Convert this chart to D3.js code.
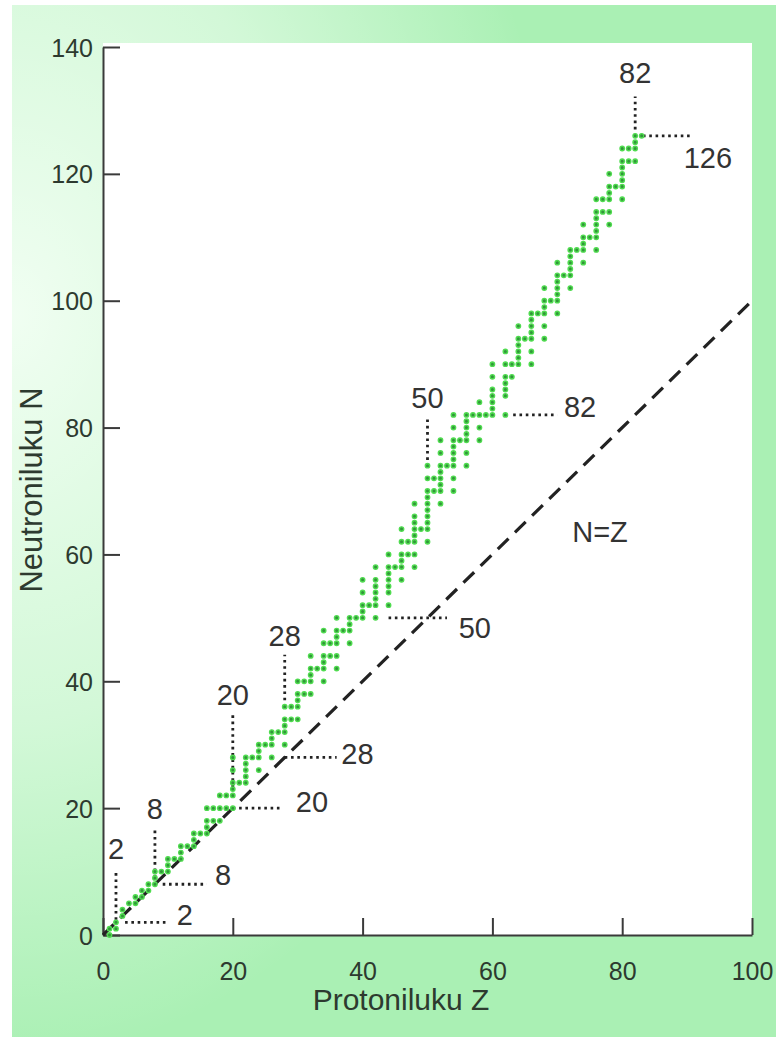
<!DOCTYPE html>
<html>
<head>
<meta charset="utf-8">
<script src="https://cdn.jsdelivr.net/npm/d3@7"></script>
<style>
  html, body { margin: 0; padding: 0; background: #fff; }
  svg { display: block; }
</style>
</head>
<body>
<div id="chart"></div>
<script>
// proton numbers of the elements that have stable nuclides
const protonZ = [
  1, 2, 3, 4, 5, 6, 7, 8, 9, 10, 11, 12, 13, 14, 15, 16, 17, 18, 19, 20,
  21, 22, 23, 24, 25, 26, 27, 28, 29, 30, 31, 32, 33, 34, 35, 36, 37, 38, 39, 40,
  41, 42, 44, 45, 46, 47, 48, 49, 50, 51, 52, 53, 54, 55, 56, 57, 58, 59, 60,
  62, 63, 64, 65, 66, 67, 68, 69, 70, 71, 72, 73, 74, 75, 76, 77, 78, 79, 80,
  81, 82, 83
]
// neutron numbers of the stable nuclides for each Z above
const neutronN = [
  [0, 1], [1, 2], [3, 4], [5], [5, 6], [6, 7], [7, 8], [8, 9, 10], [10], [10, 11, 12],
  [12], [12, 13, 14], [14], [14, 15, 16], [16], [16, 17, 18, 20], [18, 20], [18, 20, 22], [20, 22], [20, 22, 23, 24, 26, 28],
  [24], [24, 25, 26, 27, 28], [28], [26, 28, 29, 30], [30], [28, 30, 31, 32], [32], [30, 32, 33, 34, 36], [34, 36], [34, 36, 37, 38, 40],
  [38, 40], [38, 40, 41, 42, 44], [42], [40, 42, 43, 44, 46, 48], [44, 46], [42, 44, 46, 47, 48, 50], [48], [46, 48, 49, 50], [50], [50, 51, 52, 54, 56],
  [52], [50, 52, 53, 54, 55, 56, 58], [52, 54, 55, 56, 57, 58, 60], [58], [56, 58, 59, 60, 62, 64], [60, 62], [58, 60, 62, 63, 64, 65, 66, 68], [64], [62, 64, 65, 66, 67, 68, 69, 70, 72, 74], [70, 72],
  [68, 70, 71, 72, 73, 74, 76, 78], [74], [70, 72, 74, 75, 76, 77, 78, 80, 82], [78], [74, 76, 78, 79, 80, 81, 82], [82], [78, 80, 82, 84], [82], [82, 83, 84, 85, 86, 88, 90],
  [82, 85, 86, 87, 88, 90, 92], [88, 90], [90, 91, 92, 93, 94, 96], [94], [90, 92, 94, 95, 96, 97, 98], [98], [94, 96, 98, 99, 100, 102], [100], [98, 100, 101, 102, 103, 104, 106], [104],
  [102, 104, 105, 106, 107, 108], [108], [106, 108, 109, 110, 112], [110], [108, 110, 111, 112, 113, 114, 116], [114, 116], [112, 114, 116, 117, 118, 120], [118], [116, 118, 119, 120, 121, 122, 124],
  [122, 124], [122, 124, 125, 126], [126]
]

// magic numbers: vertical marks at Z, horizontal marks at N
const magicZ = [2, 8, 20, 28, 50, 82]
const magicZFrom = [2.4, 9.1, 23.3, 37, 74.9, 127]
const magicZTo = [10.3, 16.9, 35, 44.2, 81.5, 132.2]
const magicZLabelN = [13.7, 20, 37.9, 47.2, 84.7, 136]

const magicN = [2, 8, 20, 28, 50, 82, 126]
const magicNFrom = [3.4, 9.2, 20, 28, 44, 63.2, 83.2]
const magicNTo = [10, 16, 27.7, 36, 53, 70, 90.8]
const magicNLabelZ = [12.6, 18.5, 32.2, 39.2, 57.3, 73.5, 93.2]
const magicNLabelN = [3.2, 9.5, 21, 28.6, 48.4, 83.3, 122.5]

const xTicks = [0, 20, 40, 60, 80, 100]
const yTicks = [0, 20, 40, 60, 80, 100, 120, 140]

const W = 776, H = 1037
const plot = {left: 103, right: 752, top: 47, bottom: 935}

const svg = d3.select("#chart").append("svg")
    .attr("width", W)
    .attr("height", H)
    .style("font-family", "'Liberation Sans', Arial, sans-serif")

// background gradient
const defs = svg.append("defs")
const glow = defs.append("radialGradient")
    .attr("id", "glow")
    .attr("cx", 0.0).attr("cy", 0.3).attr("r", 0.72)
glow.append("stop").attr("offset", 0).attr("stop-color", "#f4fff5").attr("stop-opacity", 0.95)
glow.append("stop").attr("offset", 0.55).attr("stop-color", "#f4fff5").attr("stop-opacity", 0.55)
glow.append("stop").attr("offset", 1).attr("stop-color", "#f4fff5").attr("stop-opacity", 0)

svg.append("rect").attr("x", 12).attr("y", 5).attr("width", W - 12).attr("height", H - 5)
    .attr("fill", "#aaf0b4")
svg.append("rect").attr("x", 12).attr("y", 5).attr("width", W - 12).attr("height", H - 5)
    .attr("fill", "url(#glow)")

// white plot panel
svg.append("rect")
    .attr("x", plot.left).attr("y", 43)
    .attr("width", plot.right - plot.left).attr("height", plot.bottom - 43)
    .attr("fill", "#fff")

const x = d3.scaleLinear().domain([0, 100]).range([plot.left, plot.right])
const y = d3.scaleLinear().domain([0, 140]).range([plot.bottom, plot.top])

// axes
const xAxis = svg.append("g")
    .attr("transform", `translate(0,${plot.bottom})`)
    .call(d3.axisBottom(x).tickValues(xTicks).tickSizeInner(-17).tickSizeOuter(0).tickPadding(27))
const yAxis = svg.append("g")
    .attr("transform", `translate(${plot.left},0)`)
    .call(d3.axisLeft(y).tickValues(yTicks).tickSizeInner(-17).tickSizeOuter(0).tickPadding(10))

;[xAxis, yAxis].forEach(g => {
    g.attr("font-family", null).attr("font-size", null)
    g.select(".domain").attr("stroke", "#3a3a3a").attr("stroke-width", 2)
    g.selectAll(".tick line").attr("stroke", "#3a3a3a").attr("stroke-width", 2)
    g.selectAll(".tick text").attr("fill", "#2d3a2f").style("font-size", "25px")
})
yAxis.selectAll(".tick text").attr("dy", "0.36em")

// axis titles
svg.append("text")
    .attr("x", 401).attr("y", 1010)
    .attr("text-anchor", "middle")
    .attr("fill", "#2d3a2f")
    .style("font-size", "30px")
    .text("Protoniluku Z")
svg.append("text")
    .attr("transform", "translate(42,490) rotate(-90)")
    .attr("text-anchor", "middle")
    .attr("fill", "#2d3a2f")
    .style("font-size", "31px")
    .text("Neutroniluku N")

// N = Z dashed line
svg.append("path")
    .datum([0, 100])
    .attr("d", d3.line().x(d => x(d)).y(d => y(d)))
    .attr("fill", "none")
    .attr("stroke", "#222")
    .attr("stroke-width", 3.2)
    .attr("stroke-dasharray", "15 9")

svg.append("text")
    .attr("x", x(72.3)).attr("y", y(62))
    .attr("fill", "#333")
    .style("font-size", "29px")
    .text("N=Z")

// magic number dotted lines
const dotted = {stroke: "#222", width: 2.8, dash: "2.6 3.7"}
magicZ.forEach((z, i) => {
    svg.append("line")
        .attr("x1", x(z)).attr("x2", x(z))
        .attr("y1", y(magicZFrom[i])).attr("y2", y(magicZTo[i]))
        .attr("stroke", dotted.stroke).attr("stroke-width", dotted.width)
        .attr("stroke-dasharray", dotted.dash)
    svg.append("text")
        .attr("x", x(z)).attr("y", y(magicZLabelN[i]))
        .attr("dy", "0.36em")
        .attr("text-anchor", "middle")
        .attr("fill", "#333")
        .style("font-size", "29px")
        .text(z)
})
magicN.forEach((n, i) => {
    svg.append("line")
        .attr("x1", x(magicNFrom[i])).attr("x2", x(magicNTo[i]))
        .attr("y1", y(n)).attr("y2", y(n))
        .attr("stroke", dotted.stroke).attr("stroke-width", dotted.width)
        .attr("stroke-dasharray", dotted.dash)
    svg.append("text")
        .attr("x", x(magicNLabelZ[i])).attr("y", y(magicNLabelN[i]))
        .attr("dy", "0.36em")
        .attr("text-anchor", "middle")
        .attr("fill", "#333")
        .style("font-size", "29px")
        .text(n)
})

// stable nuclides
const nuclides = []
protonZ.forEach((z, i) => neutronN[i].forEach(n => nuclides.push({z, n})))

svg.append("g")
    .selectAll("circle")
    .data(nuclides)
    .enter()
    .append("circle")
    .attr("cx", d => x(d.z))
    .attr("cy", d => y(d.n))
    .attr("r", 2.2)
    .attr("fill", "#32963a")
    .attr("stroke", "#50dc50")
    .attr("stroke-width", 1.4)
</script>
</body>
</html>
